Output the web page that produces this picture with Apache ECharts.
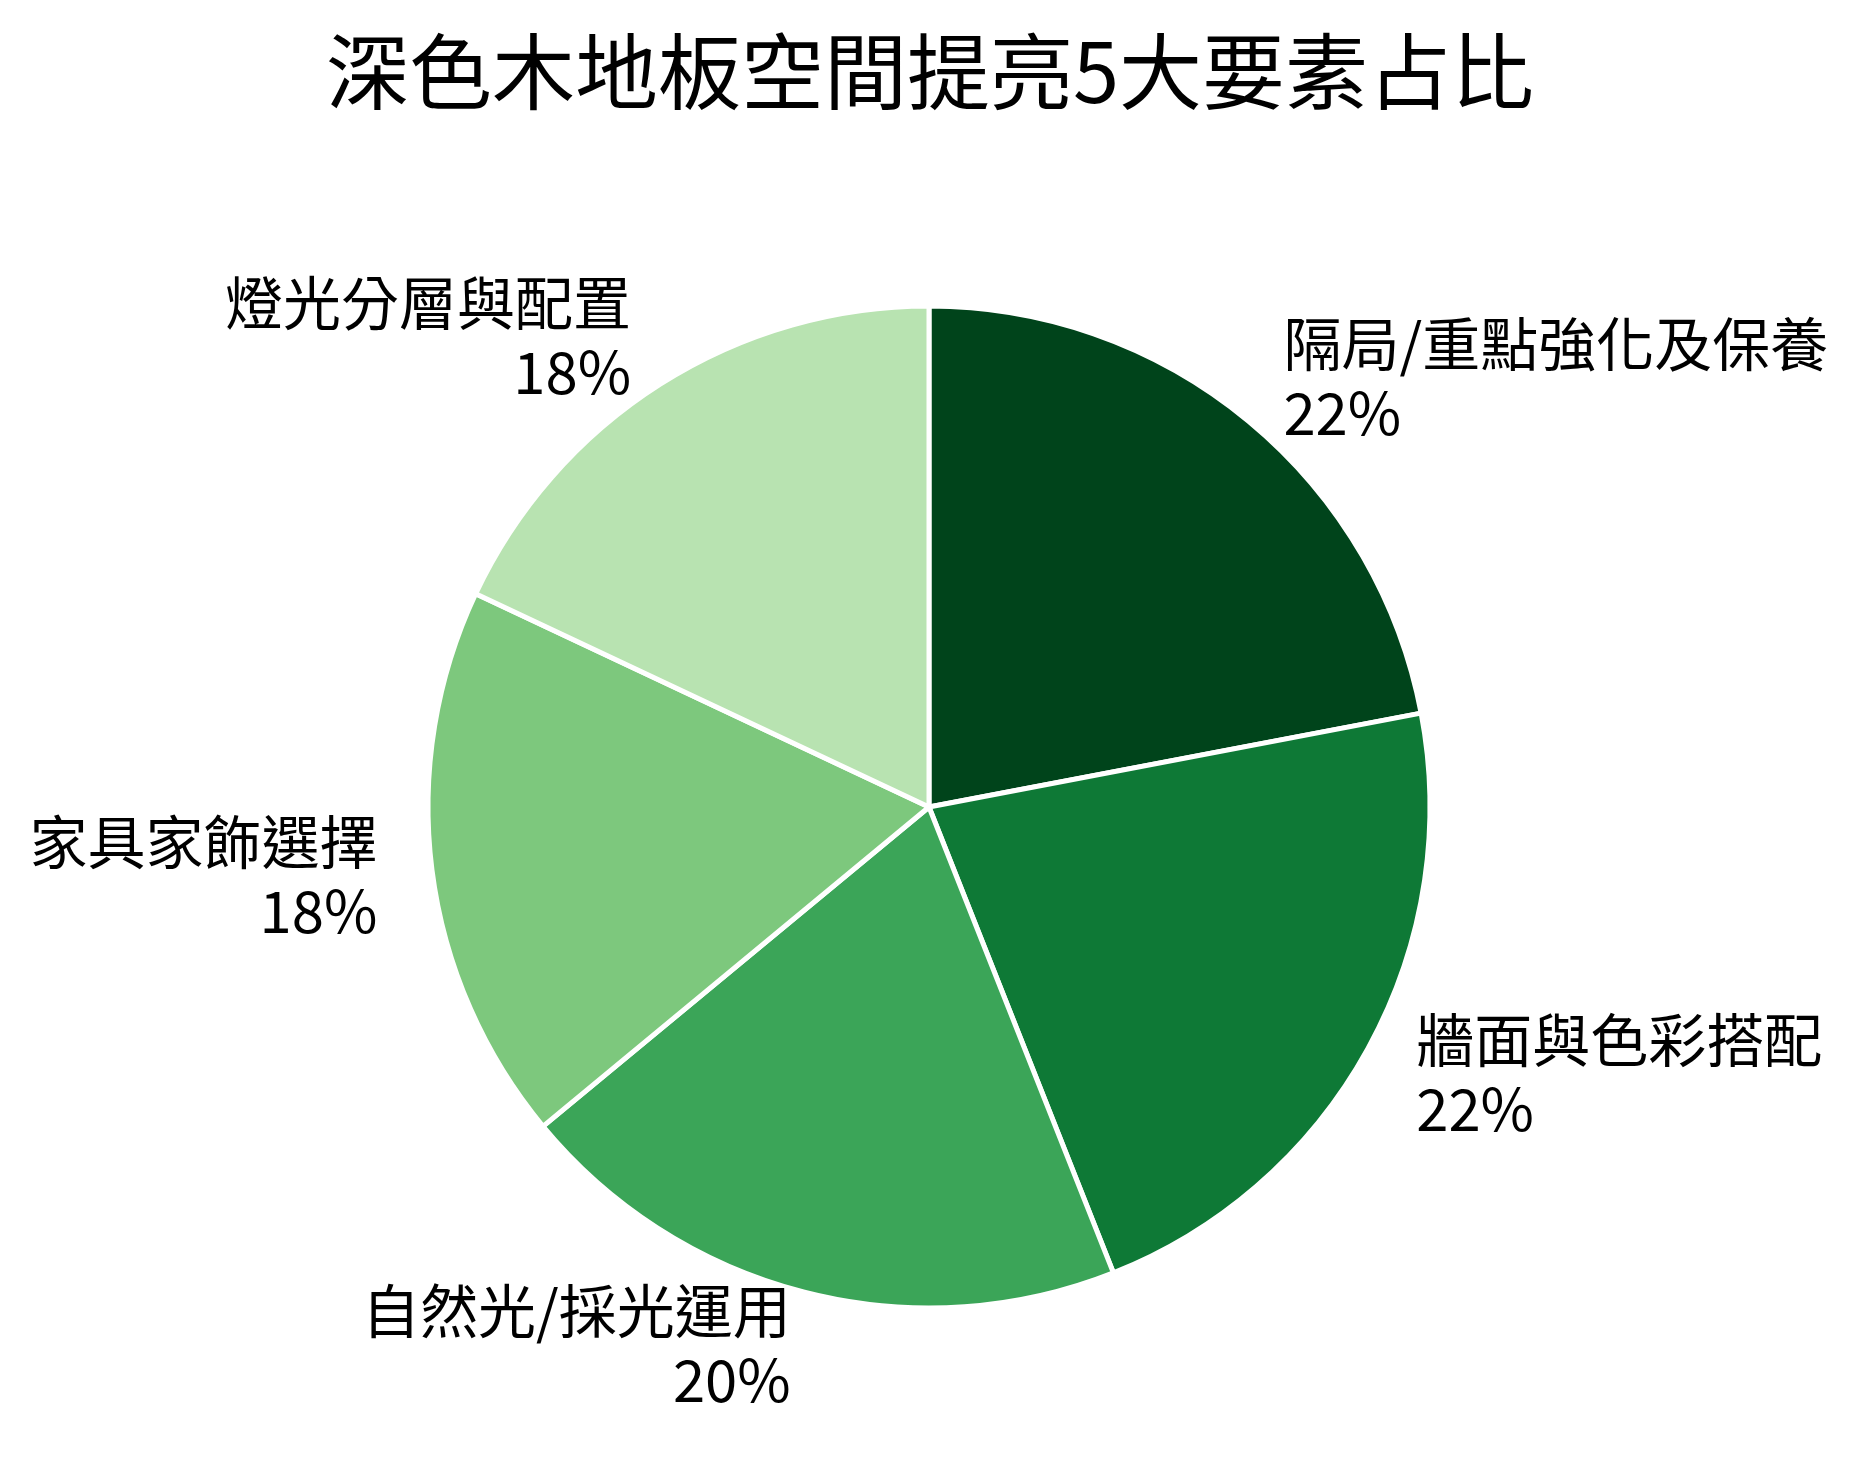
<!DOCTYPE html>
<html>
<head>
<meta charset="utf-8">
<script src="https://cdn.jsdelivr.net/npm/echarts@6/dist/echarts.min.js"></script>
<style>
  html, body { margin: 0; padding: 0; background: #fff; }
  #chart { width: 1860px; height: 1468px; }
</style>
</head>
<body>
<div id="chart"></div>
<script>
// slices go clockwise from 12 o'clock
const categories = ["隔局/重點強化及保養", "牆面與色彩搭配", "自然光/採光運用", "家具家飾選擇", "燈光分層與配置"];
const shares = [22, 22, 20, 18, 18];
const sliceColors = ["#00441b", "#0e7936", "#3ba558", "#7dc87d", "#b8e3b1"];

const FONT = '"Noto Sans CJK TC", "Noto Sans", sans-serif';
const chart = echarts.init(document.getElementById("chart"));

chart.setOption({
  backgroundColor: "#ffffff",
  animation: false,
  title: {
    text: "深色木地板空間提亮5大要素占比",
    left: "center",
    top: 24,
    textStyle: { fontFamily: FONT, fontSize: 83, lineHeight: 84, fontWeight: "normal", color: "#000" },
  },
  series: [{
    type: "pie",
    center: [929, 807],
    radius: 501,
    startAngle: 90,
    clockwise: true,
    avoidLabelOverlap: false,
    itemStyle: { borderColor: "#ffffff", borderWidth: 5 },
    label: {
      show: true,
      position: "outside",
      alignTo: "none",
      distanceToLabelLine: 0,
      formatter: "{b}\n{c}%",
      fontFamily: FONT,
      fontSize: 58,
      lineHeight: 69,
      color: "#000",
    },
    labelLine: { show: false, length: 55, length2: 0 },
    emphasis: { disabled: true },
    data: categories.map((name, i) => ({
      name, value: shares[i], itemStyle: { color: sliceColors[i] },
    })),
  }],
});
</script>
</body>
</html>
